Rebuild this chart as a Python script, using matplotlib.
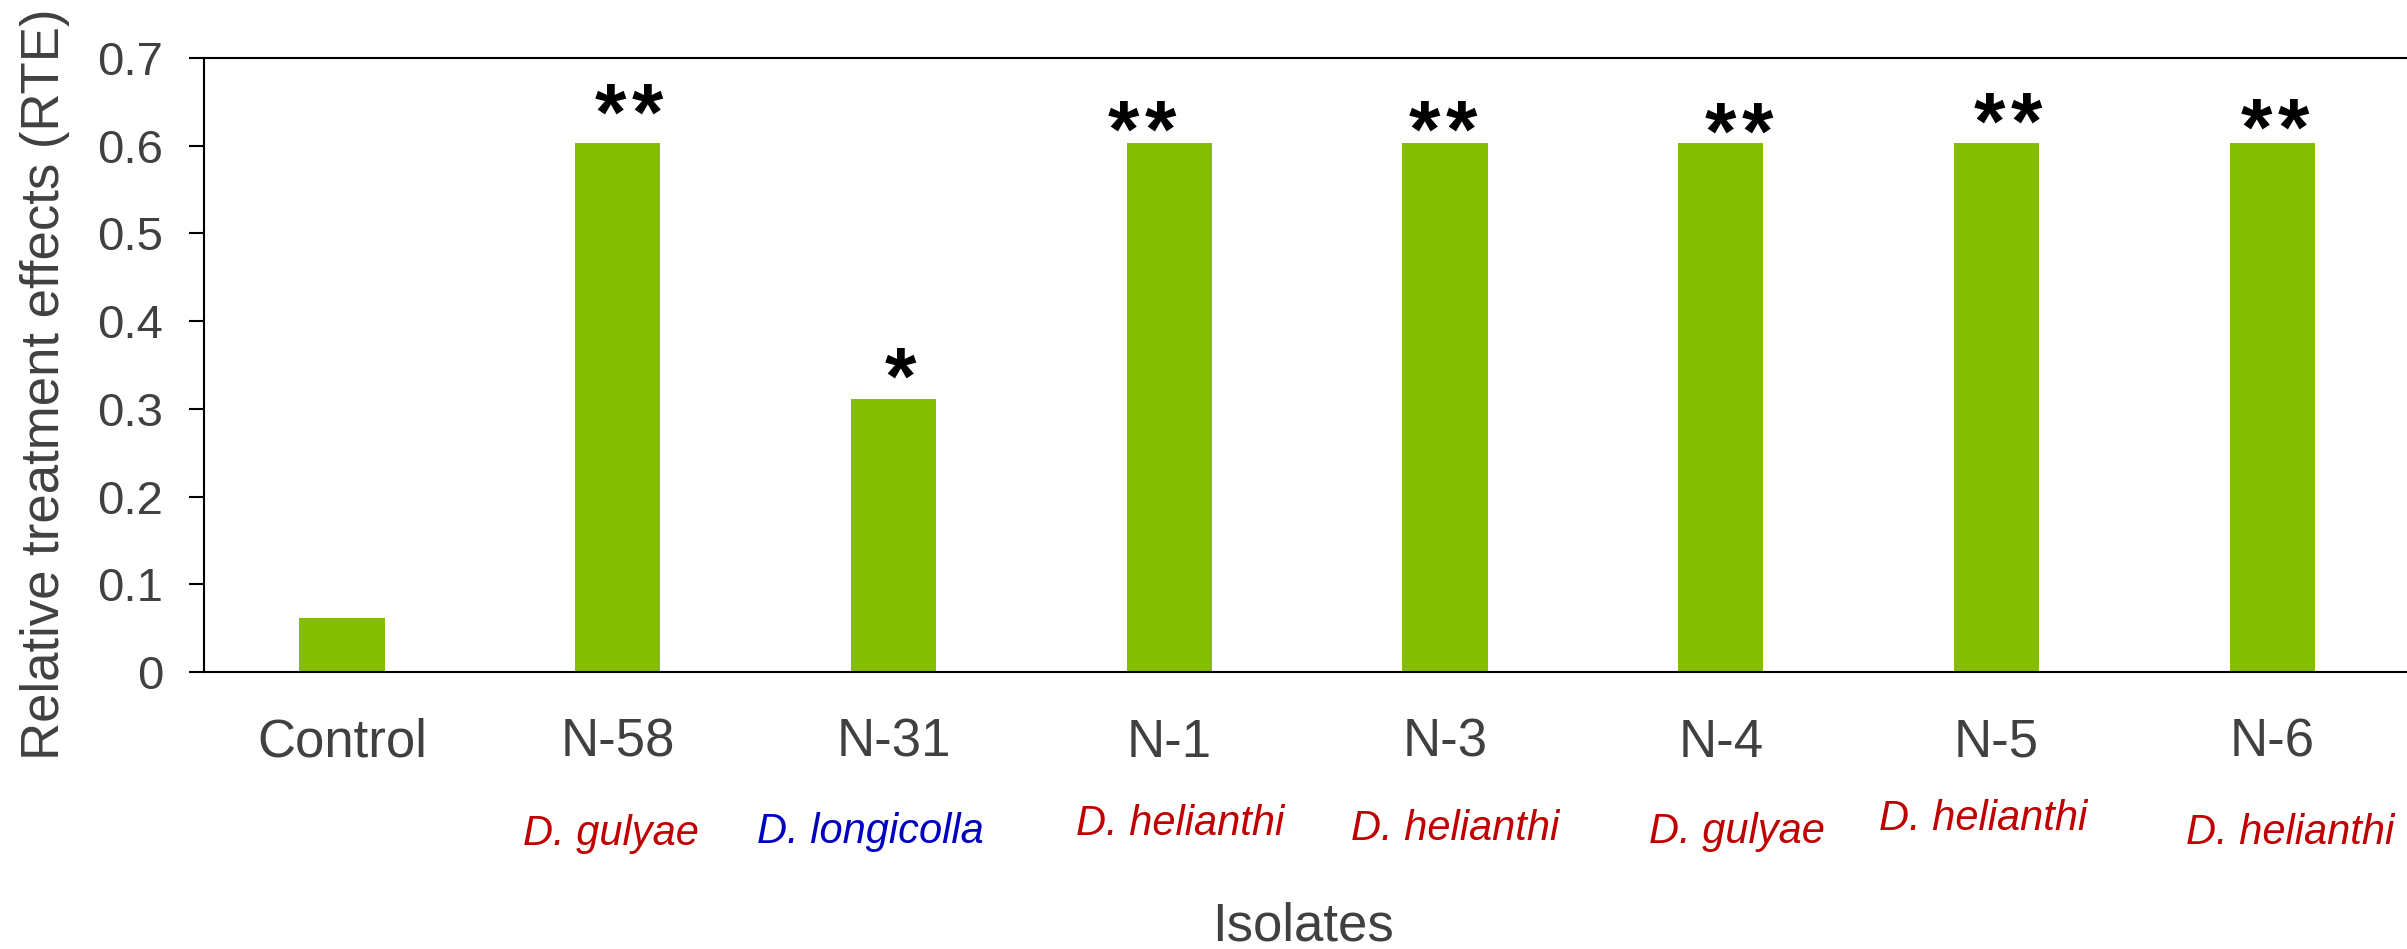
import numpy as np
import matplotlib
matplotlib.use("Agg")
import matplotlib.pyplot as plt
import matplotlib.transforms as mtransforms

# data
isolates = ["Control", "N-58", "N-31", "N-1", "N-3", "N-4", "N-5", "N-6"]
rte = [0.061, 0.603, 0.311, 0.603, 0.603, 0.603, 0.603, 0.603]
stars = ["", "**", "*", "**", "**", "**", "**", "**"]
species = ["", "D. gulyae", "D. longicolla", "D. helianthi", "D. helianthi",
           "D. gulyae", "D. helianthi", "D. helianthi"]
species_color = ["", "#c00000", "#0000c0", "#c00000", "#c00000",
                 "#c00000", "#c00000", "#c00000"]
yticks = [0, 0.1, 0.2, 0.3, 0.4, 0.5, 0.6, 0.7]
ytick_labels = ["0", "0.1", "0.2", "0.3", "0.4", "0.5", "0.6", "0.7"]

# hand placement nudges for the annotations, as in the original figure
star_dx = [0, 0.04, 0.025, -0.098, -0.007, 0.065, 0.04, 0.011]
star_y = [0, 0.652, 0.351, 0.632, 0.632, 0.630, 0.641, 0.634]
sp_dx = [0, -0.024, -0.085, 0.04, 0.036, 0.06, -0.05, 0.064]
sp_y = [0, -0.281, -0.279, -0.265, -0.274, -0.279, -0.257, -0.280]

plt.rcParams['font.family'] = ['Liberation Sans', 'DejaVu Sans']
grey = "#404040"

fig = plt.figure(figsize=(24.07, 9.49), dpi=100)
ax = fig.add_axes([0.0848, 0.2919, 0.9165, 0.647])

x = np.arange(len(isolates))
ax.bar(x, rte, width=0.31, color="#85bd00")

ax.set_xlim(-0.5, len(isolates) - 0.5)
ax.set_ylim(0, 0.7)
ax.set_yticks(yticks)
ax.set_yticklabels(ytick_labels)
ax.set_xticks(x)
ax.set_xticklabels(isolates)

ax.tick_params(axis="y", direction="out", length=10.5, width=1.5,
               labelsize=34, labelcolor=grey, pad=19)
ax.tick_params(axis="x", length=0, labelsize=38, labelcolor=grey, pad=33)
for side in ["left", "bottom", "top", "right"]:
    ax.spines[side].set_linewidth(1.5)
    ax.spines[side].set_color("black")

trans = mtransforms.blended_transform_factory(ax.transData, ax.transAxes)
star_step = 26.6  # points between the two asterisks
for i in range(len(isolates)):
    n = len(stars[i])
    for k, ch in enumerate(stars[i]):
        off = (k - (n - 1) / 2) * star_step
        t = mtransforms.offset_copy(ax.transData, fig=fig, x=off, y=-13,
                                    units="points")
        ax.text(x[i] + star_dx[i], star_y[i], ch, transform=t,
                ha="center", va="center", fontsize=58, fontweight="bold",
                color="black")
    if species[i]:
        ax.text(x[i] + sp_dx[i], sp_y[i], species[i], transform=trans,
                ha="center", va="baseline", fontsize=30, style="italic",
                color=species_color[i])

ax.set_ylabel("Relative treatment effects (RTE)", fontsize=38, color=grey,
              va="center")
ax.yaxis.set_label_coords(-0.072, 0.468)
ax.set_xlabel("Isolates", fontsize=38, color=grey, va="center")
ax.xaxis.set_label_coords(0.498, -0.414)

fig.savefig("out.png", dpi=100)
